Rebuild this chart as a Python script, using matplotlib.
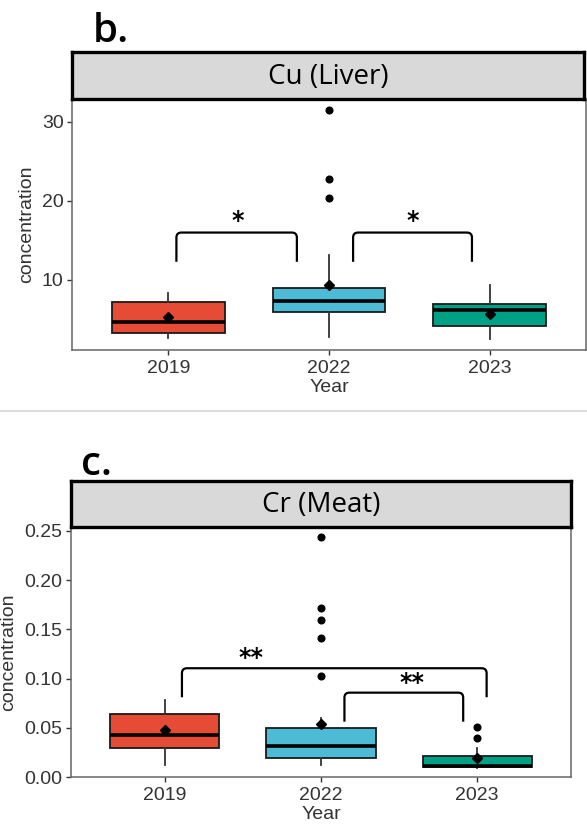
import numpy as np
import matplotlib.pyplot as plt
from matplotlib.path import Path
from matplotlib.patches import PathPatch
from matplotlib.lines import Line2D

plt.rcParams['font.family'] = ['Liberation Sans', 'DejaVu Sans']

# ---- data ----
years = ['2019', '2022', '2023']
colors = ['#E64B35', '#4DBBD5', '#00A087']

# panel b: Cu (Liver)
cu_q1 = [3.33, 6.0, 4.22]
cu_med = [4.72, 7.38, 6.2]
cu_q3 = [7.25, 9.03, 6.96]
cu_whislo = [2.6, 2.83, 2.53]
cu_whishi = [8.4, 13.2, 9.37]
cu_mean = [5.27, 9.37, 5.7]
cu_fliers = [[], [31.5, 22.8, 20.4], []]
cu_sig_x1 = [1.05, 2.15]
cu_sig_x2 = [1.80, 2.89]
cu_sig_top = [16.0, 16.0]
cu_sig_leg = [12.3, 12.3]
cu_sig_label = ['*', '*']
cu_sig_lx = [1.43, 2.52]
cu_sig_ly = [17.4, 17.4]

# panel c: Cr (Meat)
cr_q1 = [0.029, 0.0193, 0.0105]
cr_med = [0.0427, 0.031, 0.0115]
cr_q3 = [0.064, 0.0498, 0.0217]
cr_whislo = [0.012, 0.012, 0.0095]
cr_whishi = [0.078, 0.060, 0.029]
cr_mean = [0.0478, 0.054, 0.019]
cr_fliers = [[], [0.2436, 0.172, 0.1595, 0.1416, 0.1026], [0.0505, 0.040]]
cr_sig_x1 = [1.11, 2.15]
cr_sig_x2 = [3.06, 2.91]
cr_sig_top = [0.1105, 0.0857]
cr_sig_leg = [0.081, 0.0562]
cr_sig_label = ['**', '**']
cr_sig_lx = [1.55, 2.58]
cr_sig_ly = [0.121, 0.096]

W, H = 587, 826
fig = plt.figure(figsize=(W / 100, H / 100), dpi=100)


def px_axes(left, top, right, bottom):
    return fig.add_axes([left / W, 1 - bottom / H, (right - left) / W, (bottom - top) / H])


def bracket(ax, x1, x2, y_top, y_leg, r_px=5):
    # corner radius in data units
    inv = ax.transData.inverted()
    p0 = inv.transform((0, 0))
    p1 = inv.transform((r_px, r_px))
    rx, ry = abs(p1[0] - p0[0]), abs(p1[1] - p0[1])
    verts = [(x1, y_leg), (x1, y_top - ry), (x1, y_top), (x1 + rx, y_top),
             (x2 - rx, y_top), (x2, y_top), (x2, y_top - ry), (x2, y_leg)]
    codes = [Path.MOVETO, Path.LINETO, Path.CURVE3, Path.CURVE3,
             Path.LINETO, Path.CURVE3, Path.CURVE3, Path.LINETO]
    ax.add_patch(PathPatch(Path(verts, codes), fill=False, lw=1.6,
                           edgecolor='black', capstyle='butt'))


def draw_panel(ax, strip, title, letter, letter_xy, ylim, yticks, ytick_labels,
               q1, med, q3, wlo, whi, means, fliers,
               sx1, sx2, stop, sleg, slab, slx, sly, ylabel_x):
    stats = []
    for i in range(len(years)):
        stats.append(dict(q1=q1[i], med=med[i], q3=q3[i], whislo=wlo[i],
                          whishi=whi[i], mean=means[i], fliers=fliers[i]))
    bp = ax.bxp(stats, positions=[1, 2, 3], widths=0.7, patch_artist=True,
                showmeans=True, showcaps=False,
                boxprops=dict(edgecolor='#1a1a1a', linewidth=1.3),
                medianprops=dict(color='black', linewidth=2.6),
                whiskerprops=dict(color='#333333', linewidth=1.3),
                meanprops=dict(marker='D', markerfacecolor='black',
                               markeredgecolor='black', markersize=5.5),
                flierprops=dict(marker='o', markerfacecolor='black',
                                markeredgecolor='black', markersize=4.8))
    for patch, c in zip(bp['boxes'], colors):
        patch.set_facecolor(c)

    ax.set_xlim(0.4, 3.6)
    ax.set_ylim(*ylim)
    ax.set_xticks([1, 2, 3])
    ax.set_xticklabels(years)
    ax.set_yticks(yticks)
    ax.set_yticklabels(ytick_labels)
    ax.tick_params(length=3.6, width=1.0, color='#333333', labelsize=14,
                   labelcolor='#333333', pad=2.5)
    ax.tick_params(axis='x', pad=3.5)
    for sp in ax.spines.values():
        sp.set_color('#666666')
        sp.set_linewidth(1.1)
    ax.set_xlabel('Year', fontsize=14, color='#333333', labelpad=1.5)
    ax.set_ylabel('concentration', fontsize=14, color='#333333')
    ax.yaxis.set_label_coords(ylabel_x, 0.5)
    ax.yaxis.label.set_verticalalignment('center')

    for i in range(len(sx1)):
        bracket(ax, sx1[i], sx2[i], stop[i], sleg[i])
        ax.text(slx[i], sly[i], slab[i], ha='center', va='center',
                fontsize=17, fontweight='bold', color='black',
                family='DejaVu Sans')

    strip.set_facecolor('#d9d9d9')
    strip.set_xticks([])
    strip.set_yticks([])
    for sp in strip.spines.values():
        sp.set_color('black')
        sp.set_linewidth(2.4)
    strip.text(0.5, 0.47, title, ha='center', va='center', fontsize=20,
               family='Open Sans', transform=strip.transAxes)

    fig.text(letter_xy[0] / W, 1 - letter_xy[1] / H, letter, fontsize=29,
             family='Open Sans', fontweight='semibold', ha='left', va='baseline')


ax_b = px_axes(72, 99, 586, 350)
strip_b = px_axes(72, 52, 584, 99)
draw_panel(ax_b, strip_b, 'Cu (Liver)', 'b.', (93, 42), (1.14, 32.9),
           [10, 20, 30], ['10', '20', '30'],
           cu_q1, cu_med, cu_q3, cu_whislo, cu_whishi, cu_mean, cu_fliers,
           cu_sig_x1, cu_sig_x2, cu_sig_top, cu_sig_leg, cu_sig_label,
           cu_sig_lx, cu_sig_ly, -0.088)

ax_c = px_axes(71, 527, 571, 777)
strip_c = px_axes(71, 481, 571, 527)
draw_panel(ax_c, strip_c, 'Cr (Meat)', 'c.', (81, 475), (0.0, 0.254),
           [0, 0.05, 0.10, 0.15, 0.20, 0.25],
           ['0.00', '0.05', '0.10', '0.15', '0.20', '0.25'],
           cr_q1, cr_med, cr_q3, cr_whislo, cr_whishi, cr_mean, cr_fliers,
           cr_sig_x1, cr_sig_x2, cr_sig_top, cr_sig_leg, cr_sig_label,
           cr_sig_lx, cr_sig_ly, -0.124)

# thin separator between the two panels
fig.add_artist(Line2D([0, 1], [1 - 411 / H, 1 - 411 / H], color='#d3d3d3',
                      lw=1.2, transform=fig.transFigure))

fig.savefig('out.png', dpi=100)
